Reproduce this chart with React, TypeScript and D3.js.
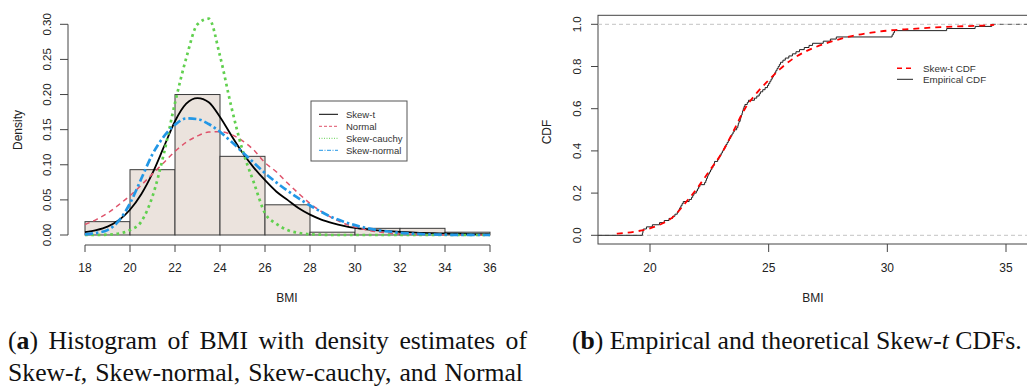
import { useLayoutEffect, useRef } from 'react';
import * as d3 from 'd3';

// histogram of BMI (bins of width 2), density scale
const binEdges = [18, 20, 22, 24, 26, 28, 30, 32, 34, 36];
const binDensity = [0.019, 0.093, 0.2, 0.112, 0.043, 0.004, 0.0095, 0.0095, 0.004];

// fitted densities read on a 0.5 grid
const gridX = [
  18, 18.5, 19, 19.5, 20, 20.5, 21, 21.5, 22, 22.5, 23, 23.5, 24, 24.5, 25, 25.5, 26, 26.5, 27,
  27.5, 28, 28.5, 29, 29.5, 30, 30.5, 31, 31.5, 32, 32.5, 33, 33.5, 34, 34.5, 35, 35.5, 36,
];
const skewT = [
  0.004, 0.007, 0.012, 0.021, 0.036, 0.058, 0.088, 0.125, 0.162, 0.187, 0.195, 0.189, 0.168,
  0.142, 0.117, 0.096, 0.078, 0.062, 0.05, 0.038, 0.029, 0.022, 0.017, 0.013, 0.01, 0.008,
  0.0065, 0.0055, 0.0045, 0.0038, 0.003, 0.0026, 0.0022, 0.0018, 0.0015, 0.0013, 0.0011,
];
const normal = [
  0.015, 0.022, 0.031, 0.043, 0.056, 0.071, 0.087, 0.103, 0.119, 0.132, 0.141, 0.1465, 0.147,
  0.143, 0.134, 0.121, 0.103, 0.09, 0.074, 0.059, 0.045, 0.0335, 0.024, 0.0167, 0.0112, 0.0073,
  0.0045, 0.0028, 0.0016, 0.0009, 0.0005, 0.0003, 0.0001, 0, 0, 0, 0,
];
const skewCauchy = [
  0, 0, 0.0005, 0.002, 0.007, 0.019, 0.055, 0.115, 0.188, 0.252, 0.3, 0.308, 0.255, 0.183,
  0.121, 0.075, 0.031, 0.016, 0.007, 0.003, 0.001, 0.0005, 0, 0, 0, 0, 0, 0, 0, 0, 0, 0, 0, 0,
  0, 0, 0,
];
const skewNormal = [
  0.001, 0.003, 0.007, 0.02, 0.045, 0.08, 0.115, 0.14, 0.157, 0.166, 0.165, 0.158, 0.147,
  0.133, 0.118, 0.103, 0.088, 0.075, 0.063, 0.052, 0.042, 0.033, 0.025, 0.019, 0.014, 0.01,
  0.007, 0.005, 0.003, 0.002, 0.0012, 0.0007, 0.0004, 0.0002, 0.0001, 0, 0,
];

// observed BMI values (sorted) for the empirical CDF
const bmiSample = [
  19.68, 19.7, 19.72, 19.85, 20.1, 20.4, 20.6, 20.8, 20.95, 21.05, 21.15, 21.2, 21.25, 21.3,
  21.35, 21.4, 21.65, 21.75, 21.8, 21.85, 21.95, 22.0, 22.05, 22.1, 22.3, 22.35, 22.38, 22.42,
  22.45, 22.5, 22.55, 22.6, 22.65, 22.7, 22.72, 22.85, 22.9, 22.95, 23.0, 23.05, 23.1, 23.15,
  23.2, 23.25, 23.3, 23.35, 23.4, 23.45, 23.5, 23.55, 23.65, 23.7, 23.72, 23.75, 23.8, 23.82,
  23.85, 23.88, 23.9, 23.93, 23.96, 24.0, 24.1, 24.15, 24.4, 24.5, 24.6, 24.65, 24.75, 24.85,
  24.95, 25.0, 25.05, 25.1, 25.15, 25.2, 25.25, 25.3, 25.35, 25.4, 25.45, 25.5, 25.6, 25.7,
  25.85, 26.0, 26.15, 26.3, 26.5, 26.7, 26.85, 27.3, 27.6, 27.85, 30.2, 30.25, 30.3, 32.5,
  33.7, 34.4,
];

// fitted skew-t CDF
const cdfX = [
  18.6, 19, 19.5, 20, 20.5, 21, 21.5, 22, 22.5, 23, 23.5, 24, 24.5, 25, 25.5, 26, 26.5, 27,
  27.5, 28, 28.5, 29, 29.5, 30, 31, 32, 33, 34, 34.5,
];
const skewTCdf = [
  0.008, 0.012, 0.02, 0.033, 0.055, 0.09, 0.155, 0.225, 0.305, 0.385, 0.49, 0.6, 0.675, 0.735,
  0.79, 0.835, 0.868, 0.893, 0.913, 0.93, 0.944, 0.955, 0.963, 0.97, 0.978, 0.985, 0.99, 0.994,
  0.997,
];

const densityTicks = [0, 0.05, 0.1, 0.15, 0.2, 0.25, 0.3];
const bmiTicksA = [18, 20, 22, 24, 26, 28, 30, 32, 34, 36];
const cdfTicks = [0, 0.2, 0.4, 0.6, 0.8, 1];
const bmiTicksB = [20, 25, 30, 35];

const densitySeries = [
  { name: 'Skew-t', values: skewT, color: '#000000', width: 1.8, dash: 'none', legendDash: 'none' },
  { name: 'Normal', values: normal, color: '#DF536B', width: 1.5, dash: '5,4', legendDash: '3,2' },
  { name: 'Skew-cauchy', values: skewCauchy, color: '#61D04F', width: 2.7, dash: '2.7,3.6', legendDash: '1,1.5' },
  { name: 'Skew-normal', values: skewNormal, color: '#2297E6', width: 2.7, dash: '8,3,2.5,3', legendDash: '4,1.5,1,1.5' },
];

const sans = '"Liberation Sans", Arial, sans-serif';
const serif = '"Liberation Serif", "Times New Roman", serif';
const axisColor = '#444';

function HistogramPanel() {
  const x = d3.scaleLinear().domain([18, 36]).range([85, 490]);
  const y = d3.scaleLinear().domain([0, 0.3]).range([235, 24.3]);
  const axisY = 245;
  const line = d3
    .line<number>()
    .x((_, i) => x(gridX[i]))
    .y((d) => y(d))
    .curve(d3.curveMonotoneX);

  return (
    <g>
      {binDensity.map((d, i) => (
        <rect
          key={i}
          x={x(binEdges[i])}
          y={y(d)}
          width={x(binEdges[i + 1]) - x(binEdges[i])}
          height={y(0) - y(d)}
          fill="#EBE3DD"
          stroke="#3a3a3a"
          strokeWidth={1}
        />
      ))}
      {densitySeries.map((s) => (
        <path
          key={s.name}
          d={line(s.values) ?? ''}
          fill="none"
          stroke={s.color}
          strokeWidth={s.width}
          strokeDasharray={s.dash}
          strokeLinecap="butt"
        />
      ))}

      {/* axes */}
      <line x1={68} x2={68} y1={y(0)} y2={y(0.3)} stroke={axisColor} />
      {densityTicks.map((t) => (
        <g key={t}>
          <line x1={60} x2={68} y1={y(t)} y2={y(t)} stroke={axisColor} />
          <text
            transform={`translate(51,${y(t)}) rotate(-90)`}
            textAnchor="middle"
            fontSize={11.5}
            fontFamily={sans}
            fill="#222"
          >
            {t.toFixed(2)}
          </text>
        </g>
      ))}
      <line x1={x(18)} x2={x(36)} y1={axisY} y2={axisY} stroke={axisColor} />
      {bmiTicksA.map((t) => (
        <g key={t}>
          <line x1={x(t)} x2={x(t)} y1={axisY} y2={axisY + 7} stroke={axisColor} />
          <text x={x(t)} y={272} textAnchor="middle" fontSize={12} fontFamily={sans} fill="#222">
            {t}
          </text>
        </g>
      ))}
      <text x={287} y={302} textAnchor="middle" fontSize={12} fontFamily={sans} fill="#222">
        BMI
      </text>
      <text transform="translate(22,130) rotate(-90)" textAnchor="middle" fontSize={12} fontFamily={sans} fill="#222">
        Density
      </text>

      {/* legend */}
      <rect x={311} y={101} width={96} height={60} fill="#fff" stroke="#555" strokeWidth={1} />
      {densitySeries.map((s, i) => (
        <g key={s.name}>
          <line
            x1={319}
            x2={338}
            y1={114.3 + i * 12}
            y2={114.3 + i * 12}
            stroke={s.color}
            strokeWidth={1}
            strokeDasharray={s.legendDash}
          />
          <text x={346} y={114.3 + i * 12} dy="0.35em" fontSize={9.5} fontFamily={sans} fill="#333">
            {s.name}
          </text>
        </g>
      ))}
    </g>
  );
}

function CdfPanel() {
  const x = d3.scaleLinear().domain([20, 35]).range([650, 1006]);
  const y = d3.scaleLinear().domain([0, 1]).range([235.3, 24.3]);
  const left = 598;
  const right = 1040;
  const top = 15.3;
  const bottom = 244;
  const n = bmiSample.length;

  const stepPts: [number, number][] = [[x.invert(left), 0]];
  bmiSample.forEach((v, i) => stepPts.push([v, (i + 1) / n]));
  const ecdfLine = d3
    .line<[number, number]>()
    .x((d) => x(d[0]))
    .y((d) => y(d[1]))
    .curve(d3.curveStepAfter);

  const cdfLine = d3
    .line<number>()
    .x((_, i) => x(cdfX[i]))
    .y((d) => y(d))
    .curve(d3.curveMonotoneX);

  const last = bmiSample[n - 1];

  return (
    <g>
      <rect x={left} y={top} width={right - left} height={bottom - top} fill="none" stroke={axisColor} />
      {[0, 1].map((v) => (
        <line key={v} x1={left} x2={right} y1={y(v)} y2={y(v)} stroke="#c4c4c4" strokeDasharray="4,3" />
      ))}
      <path d={ecdfLine(stepPts) ?? ''} fill="none" stroke="#222" strokeWidth={1} />
      <line x1={x(last)} x2={right} y1={y(1)} y2={y(1)} stroke="#555" strokeDasharray="4,4" />
      <path d={cdfLine(skewTCdf) ?? ''} fill="none" stroke="#FF0000" strokeWidth={1.8} strokeDasharray="6,5" />

      {cdfTicks.map((t) => (
        <g key={t}>
          <line x1={left - 7} x2={left} y1={y(t)} y2={y(t)} stroke={axisColor} />
          <text
            transform={`translate(581,${y(t)}) rotate(-90)`}
            textAnchor="middle"
            fontSize={11.5}
            fontFamily={sans}
            fill="#222"
          >
            {t.toFixed(1)}
          </text>
        </g>
      ))}
      {bmiTicksB.map((t) => (
        <g key={t}>
          <line x1={x(t)} x2={x(t)} y1={bottom} y2={bottom + 8} stroke={axisColor} />
          <text x={x(t)} y={272} textAnchor="middle" fontSize={12} fontFamily={sans} fill="#222">
            {t}
          </text>
        </g>
      ))}
      <text x={813} y={302} textAnchor="middle" fontSize={12} fontFamily={sans} fill="#222">
        BMI
      </text>
      <text transform="translate(551,132) rotate(-90)" textAnchor="middle" fontSize={12} fontFamily={sans} fill="#222">
        CDF
      </text>

      {/* legend */}
      <line x1={897} x2={913} y1={68.3} y2={68.3} stroke="#FF0000" strokeWidth={1.5} strokeDasharray="5,4" />
      <line x1={897} x2={913} y1={79.3} y2={79.3} stroke="#222" strokeWidth={1} />
      <text x={923} y={68.3} dy="0.35em" fontSize={9.8} fontFamily={sans} fill="#333">
        Skew-t CDF
      </text>
      <text x={923} y={79.3} dy="0.35em" fontSize={9.8} fontFamily={sans} fill="#333">
        Empirical CDF
      </text>
    </g>
  );
}

// captions: font size fitted so (b) spans its width, (a) lines justified with word spacing
function Captions() {
  const groupRef = useRef<SVGGElement>(null);
  const a1 = useRef<SVGTextElement>(null);
  const a2 = useRef<SVGTextElement>(null);
  const b = useRef<SVGTextElement>(null);

  useLayoutEffect(() => {
    if (!groupRef.current || !a1.current || !a2.current || !b.current) return;
    const base = 20;
    groupRef.current.setAttribute('font-size', String(base));
    const fs = (base * 450) / b.current.getComputedTextLength();
    groupRef.current.setAttribute('font-size', String(fs));
    const justify = (el: SVGTextElement, width: number) => {
      el.setAttribute('word-spacing', '0');
      const natural = el.getComputedTextLength();
      const gaps = (el.textContent ?? '').split(' ').length - 1;
      el.setAttribute('word-spacing', String((width - natural) / gaps));
    };
    justify(a1.current, 519);
    justify(a2.current, 515);
  }, []);

  return (
    <g ref={groupRef} fontFamily={serif} fontSize={21} fill="#111">
      <text ref={a1} x={8} y={349}>
        (<tspan fontWeight="bold">a</tspan>) Histogram of BMI with density estimates of
      </text>
      <text ref={a2} x={8} y={381}>
        Skew-<tspan fontStyle="italic">t</tspan>, Skew-normal, Skew-cauchy, and Normal
      </text>
      <text ref={b} x={572} y={349}>
        (<tspan fontWeight="bold">b</tspan>) Empirical and theoretical Skew-<tspan fontStyle="italic">t</tspan> CDFs.
      </text>
    </g>
  );
}

export default function App() {
  return (
    <svg
      width={1027}
      height={392}
      style={{ position: 'absolute', left: 0, top: 0, background: '#fff' }}
    >
      <HistogramPanel />
      <CdfPanel />
      <Captions />
    </svg>
  );
}
